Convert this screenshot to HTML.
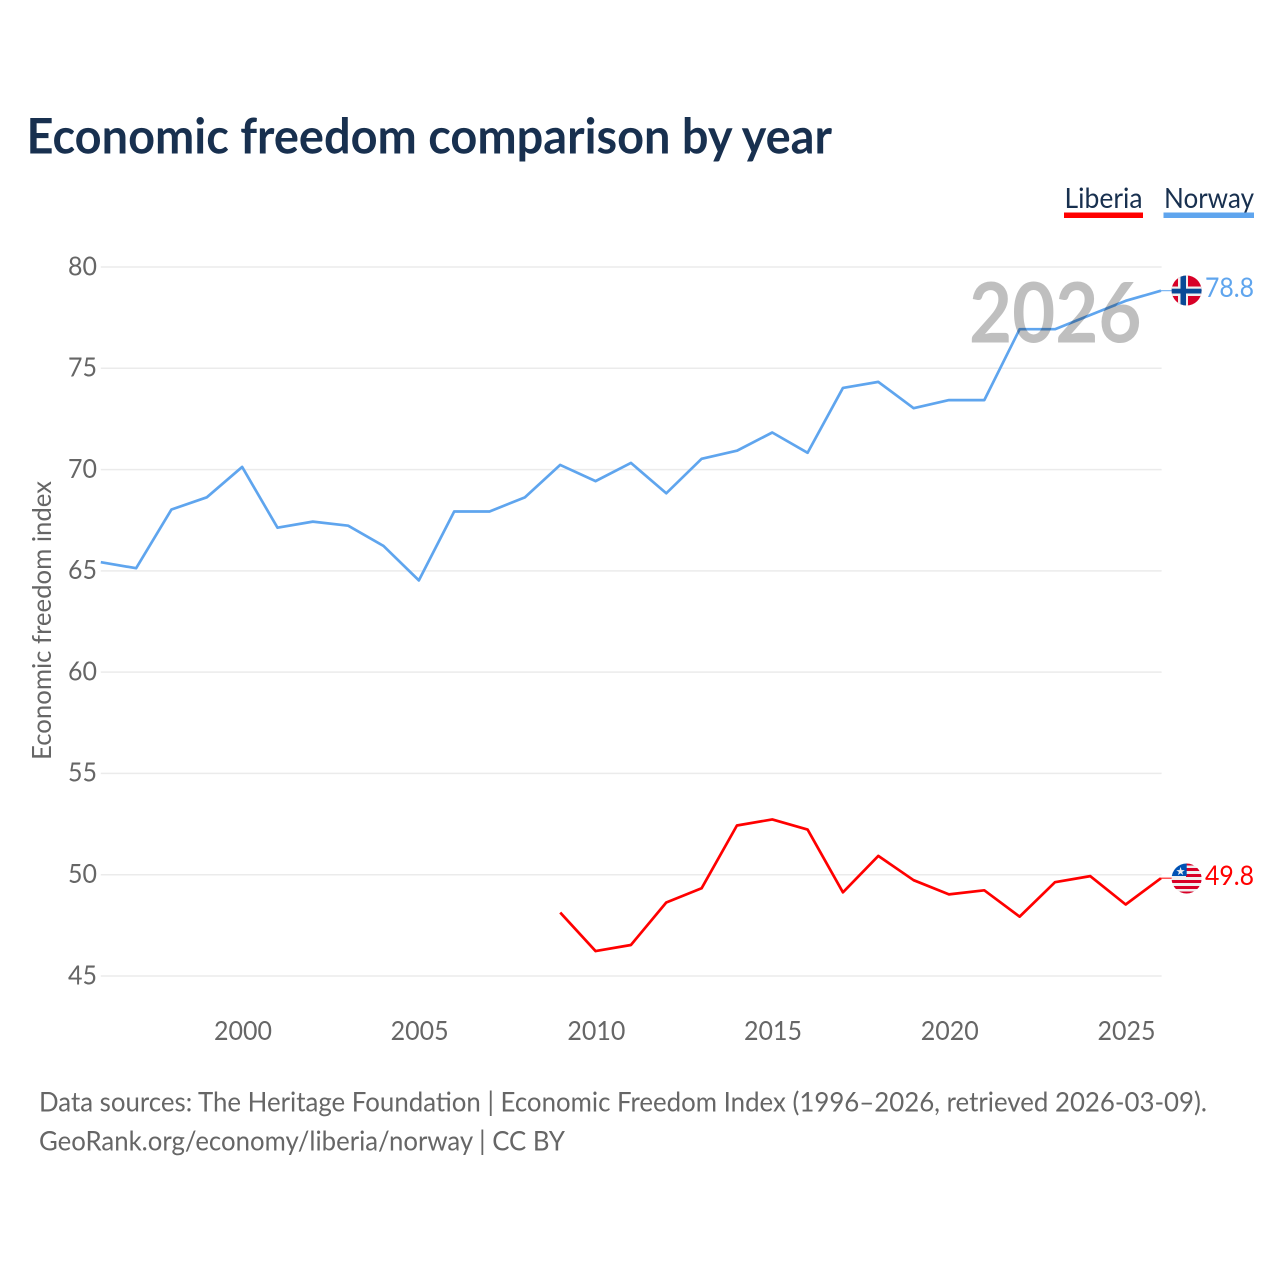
<!DOCTYPE html>
<html lang="en">
<head>
<meta charset="utf-8">
<title>Economic freedom comparison by year</title>
<style>
html,body{margin:0;padding:0;background:#fff;width:1280px;height:1280px;overflow:hidden}
svg{display:block}
text{font-family:"Lato","Carlito","Liberation Sans",sans-serif}
</style>
</head>
<body>
<svg id="chart" width="1280" height="1280" viewBox="0 0 1280 1280" xmlns="http://www.w3.org/2000/svg">
  <rect width="1280" height="1280" fill="#fff"/>
  <text x="26.5" y="153.3" font-size="49" font-weight="700" fill="#18304f" textLength="805.5" lengthAdjust="spacingAndGlyphs">Economic freedom comparison by year</text>

  <g>
    <text x="1064.5" y="208" font-size="28" fill="#18304f" textLength="78" lengthAdjust="spacingAndGlyphs">Liberia</text>
    <rect x="1064" y="212.5" width="79" height="5.5" fill="#ff0000"/>
  </g>
  <g>
    <text x="1164" y="208" font-size="28" fill="#18304f" textLength="90" lengthAdjust="spacingAndGlyphs">Norway</text>
    <rect x="1163.5" y="212.5" width="90.5" height="5.5" fill="#5fa5ee"/>
  </g>

  <g id="grid"></g>
  <g id="y-axis"></g>
  <g id="x-axis"></g>
  <text transform="translate(51,760) rotate(-90)" font-size="26" fill="#666" textLength="279" lengthAdjust="spacingAndGlyphs">Economic freedom index</text>

  <g id="series"></g>

  <text x="969" y="342.5" font-size="83" font-weight="700" fill="#000" fill-opacity="0.25" textLength="172.5" lengthAdjust="spacingAndGlyphs">2026</text>

  <defs>
    <clipPath id="norway-clip"><circle cx="1186.6" cy="290.5" r="15"/></clipPath>
    <clipPath id="liberia-clip"><circle cx="1186.6" cy="878.5" r="15"/></clipPath>
  </defs>
  <g clip-path="url(#norway-clip)">
    <rect x="1171" y="275" width="31" height="31" fill="#d80027"/>
    <rect x="1178" y="275" width="10" height="31" fill="#f0f0f0"/>
    <rect x="1171" y="286.5" width="31" height="9.5" fill="#f0f0f0"/>
    <rect x="1180.5" y="275" width="5.5" height="31" fill="#0a4a96"/>
    <rect x="1171" y="288.7" width="31" height="4.8" fill="#0a4a96"/>
  </g>
  <g clip-path="url(#liberia-clip)">
    <rect x="1171" y="863" width="31" height="31" fill="#f0f0f0"/>
    <rect x="1186" y="863" width="16" height="2.5" fill="#d80027"/>
    <rect x="1186" y="868" width="16" height="3" fill="#d80027"/>
    <rect x="1186" y="874" width="16" height="3" fill="#d80027"/>
    <rect x="1171" y="880" width="31" height="3" fill="#d80027"/>
    <rect x="1171" y="886" width="31" height="3" fill="#d80027"/>
    <rect x="1171" y="891.5" width="31" height="3" fill="#d80027"/>
    <rect x="1171" y="863" width="15.7" height="13" fill="#0052b4"/>
    <text x="1180.5" y="875" font-size="11" text-anchor="middle" fill="#f0f0f0" style="font-family:'DejaVu Sans',sans-serif">★</text>
  </g>

  <text x="1205" y="297" font-size="27" fill="#5fa5ee" textLength="49" lengthAdjust="spacingAndGlyphs">78.8</text>
  <text x="1205" y="885" font-size="27" fill="#ff0000" textLength="49" lengthAdjust="spacingAndGlyphs">49.8</text>

  <text x="39" y="1111.5" font-size="27" fill="#666" textLength="1168" lengthAdjust="spacingAndGlyphs">Data sources: The Heritage Foundation | Economic Freedom Index (1996–2026, retrieved 2026-03-09).</text>
  <text x="39" y="1150.5" font-size="27" fill="#666" textLength="526" lengthAdjust="spacingAndGlyphs">GeoRank.org/economy/liberia/norway | CC BY</text>
</svg>
<script>
const yTicks = [45, 50, 55, 60, 65, 70, 75, 80];
const xTicks = [2000, 2005, 2010, 2015, 2020, 2025];
const norwayYears = [1996, 1997, 1998, 1999, 2000, 2001, 2002, 2003, 2004, 2005, 2006, 2007, 2008, 2009, 2010, 2011, 2012, 2013, 2014, 2015, 2016, 2017, 2018, 2019, 2020, 2021, 2022, 2023, 2024, 2025, 2026];
const norwayValues = [65.4, 65.1, 68.0, 68.6, 70.1, 67.1, 67.4, 67.2, 66.2, 64.5, 67.9, 67.9, 68.6, 70.2, 69.4, 70.3, 68.8, 70.5, 70.9, 71.8, 70.8, 74.0, 74.3, 73.0, 73.4, 73.4, 76.9, 76.9, 77.6, 78.3, 78.8];
const liberiaYears = [2009, 2010, 2011, 2012, 2013, 2014, 2015, 2016, 2017, 2018, 2019, 2020, 2021, 2022, 2023, 2024, 2025, 2026];
const liberiaValues = [48.1, 46.2, 46.5, 48.6, 49.3, 52.4, 52.7, 52.2, 49.1, 50.9, 49.7, 49.0, 49.2, 47.9, 49.6, 49.9, 48.5, 49.8];

const NS = 'http://www.w3.org/2000/svg';
const xScale = function (year) { return 100.8 + (year - 1996) * (1161 - 100.8) / 30; };
const yScale = function (value) { return 976 - (value - 45) * (976 - 267) / 35; };
const lineY = function (value) { return yScale(value) - 0.6; };

const grid = document.getElementById('grid');
const yAxis = document.getElementById('y-axis');
const xAxis = document.getElementById('x-axis');
const series = document.getElementById('series');

yTicks.forEach(function (tick) {
  const line = document.createElementNS(NS, 'line');
  
  
  line.setAttribute('x1', 100.8);
  line.setAttribute('x2', 1161.6);
  line.setAttribute('y1', yScale(tick));
  line.setAttribute('y2', yScale(tick));
  line.setAttribute('stroke', '#ebebeb');
  line.setAttribute('stroke-width', 1.5);
  grid.appendChild(line);

  const label = document.createElementNS(NS, 'text');
  
  
  label.setAttribute('x', 97);
  label.setAttribute('y', yScale(tick) + 8.3);
  label.setAttribute('text-anchor', 'end');
  label.setAttribute('font-size', 26);
  label.setAttribute('fill', '#666');
  label.setAttribute('textLength', 29);
  label.setAttribute('lengthAdjust', 'spacingAndGlyphs');
  label.textContent = tick;
  yAxis.appendChild(label);
});

xTicks.forEach(function (tick) {
  const label = document.createElementNS(NS, 'text');
  
  
  label.setAttribute('x', xScale(tick) + 0.8);
  label.setAttribute('y', 1040);
  label.setAttribute('text-anchor', 'middle');
  label.setAttribute('font-size', 26);
  label.setAttribute('fill', '#666');
  label.setAttribute('textLength', 58);
  label.setAttribute('lengthAdjust', 'spacingAndGlyphs');
  label.textContent = tick;
  xAxis.appendChild(label);
});

function pointsFor(years, values) {
  return years.map(function (year, i) {
    return xScale(year).toFixed(2) + ',' + lineY(values[i]).toFixed(2);
  }).join(' ');
}

const liberiaLine = document.createElementNS(NS, 'polyline');


liberiaLine.setAttribute('points', pointsFor(liberiaYears, liberiaValues));
liberiaLine.setAttribute('fill', 'none');
liberiaLine.setAttribute('stroke', '#ff0000');
liberiaLine.setAttribute('stroke-width', 2.7);
liberiaLine.setAttribute('stroke-linejoin', 'round');
series.appendChild(liberiaLine);

const norwayLine = document.createElementNS(NS, 'polyline');


norwayLine.setAttribute('points', pointsFor(norwayYears, norwayValues));
norwayLine.setAttribute('fill', 'none');
norwayLine.setAttribute('stroke', '#5fa5ee');
norwayLine.setAttribute('stroke-width', 2.7);
norwayLine.setAttribute('stroke-linejoin', 'round');
series.appendChild(norwayLine);

const norwayConnector = document.createElementNS(NS, 'line');


norwayConnector.setAttribute('x1', xScale(2026));
norwayConnector.setAttribute('x2', 1172);
norwayConnector.setAttribute('y1', lineY(norwayValues[norwayValues.length - 1]));
norwayConnector.setAttribute('y2', lineY(norwayValues[norwayValues.length - 1]));
norwayConnector.setAttribute('stroke', '#5fa5ee');
norwayConnector.setAttribute('stroke-width', 1);
series.appendChild(norwayConnector);

const liberiaConnector = document.createElementNS(NS, 'line');


liberiaConnector.setAttribute('x1', xScale(2026));
liberiaConnector.setAttribute('x2', 1172);
liberiaConnector.setAttribute('y1', lineY(liberiaValues[liberiaValues.length - 1]));
liberiaConnector.setAttribute('y2', lineY(liberiaValues[liberiaValues.length - 1]));
liberiaConnector.setAttribute('stroke', '#ff0000');
liberiaConnector.setAttribute('stroke-width', 1);
series.appendChild(liberiaConnector);
</script>
</body>
</html>
